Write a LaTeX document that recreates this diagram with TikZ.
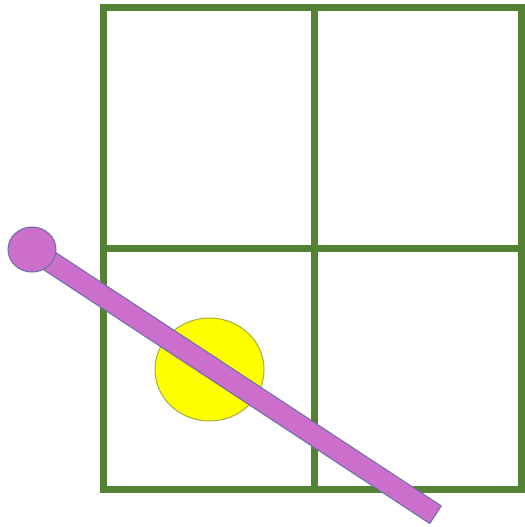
\documentclass[tikz,border=0pt]{standalone}
\usepackage{xcolor}
\usepackage{tikz}
\usetikzlibrary{calc}

\definecolor{gridgreen}{HTML}{548235}
\definecolor{barpink}{HTML}{CC6FCC}
\definecolor{baredge}{HTML}{6C6FA8}
\definecolor{ballyellow}{HTML}{FFFF00}
\definecolor{balledge}{HTML}{A8B040}

\begin{document}
\begin{tikzpicture}[
  x=0.02cm, y=-0.02cm,
  grid/.style={draw=gridgreen,line width=0.14cm},
  ball/.style={fill=ballyellow,draw=balledge,line width=0.6pt},
  bar/.style={fill=barpink,draw=baredge,line width=0.6pt,line join=round}
]
  \useasboundingbox (0,0) rectangle (524,527);

  % 2x2 grid
  \draw[grid] (103.5,8) rectangle (521,489.5);
  \draw[grid] (314.5,8) -- (314.5,489.5);
  \draw[grid] (103.5,248.5) -- (521,248.5);

  % yellow ball
  \coordinate (ball) at (209.5,369.5);
  \path[ball] (ball) ellipse [x radius=1.09cm, y radius=1.03cm];

  % pink stick
  \coordinate (knob) at (32,249.5);
  \coordinate (tip) at (435.5,514.7);
  \path[bar] ($(knob)!0.21cm!90:(tip)$) -- ($(tip)!0.21cm!-90:(knob)$)
    -- ($(tip)!0.21cm!90:(knob)$) -- ($(knob)!0.21cm!-90:(tip)$) -- cycle;
  \path[bar] (knob) ellipse [x radius=0.48cm, y radius=0.45cm];
\end{tikzpicture}
\end{document}
